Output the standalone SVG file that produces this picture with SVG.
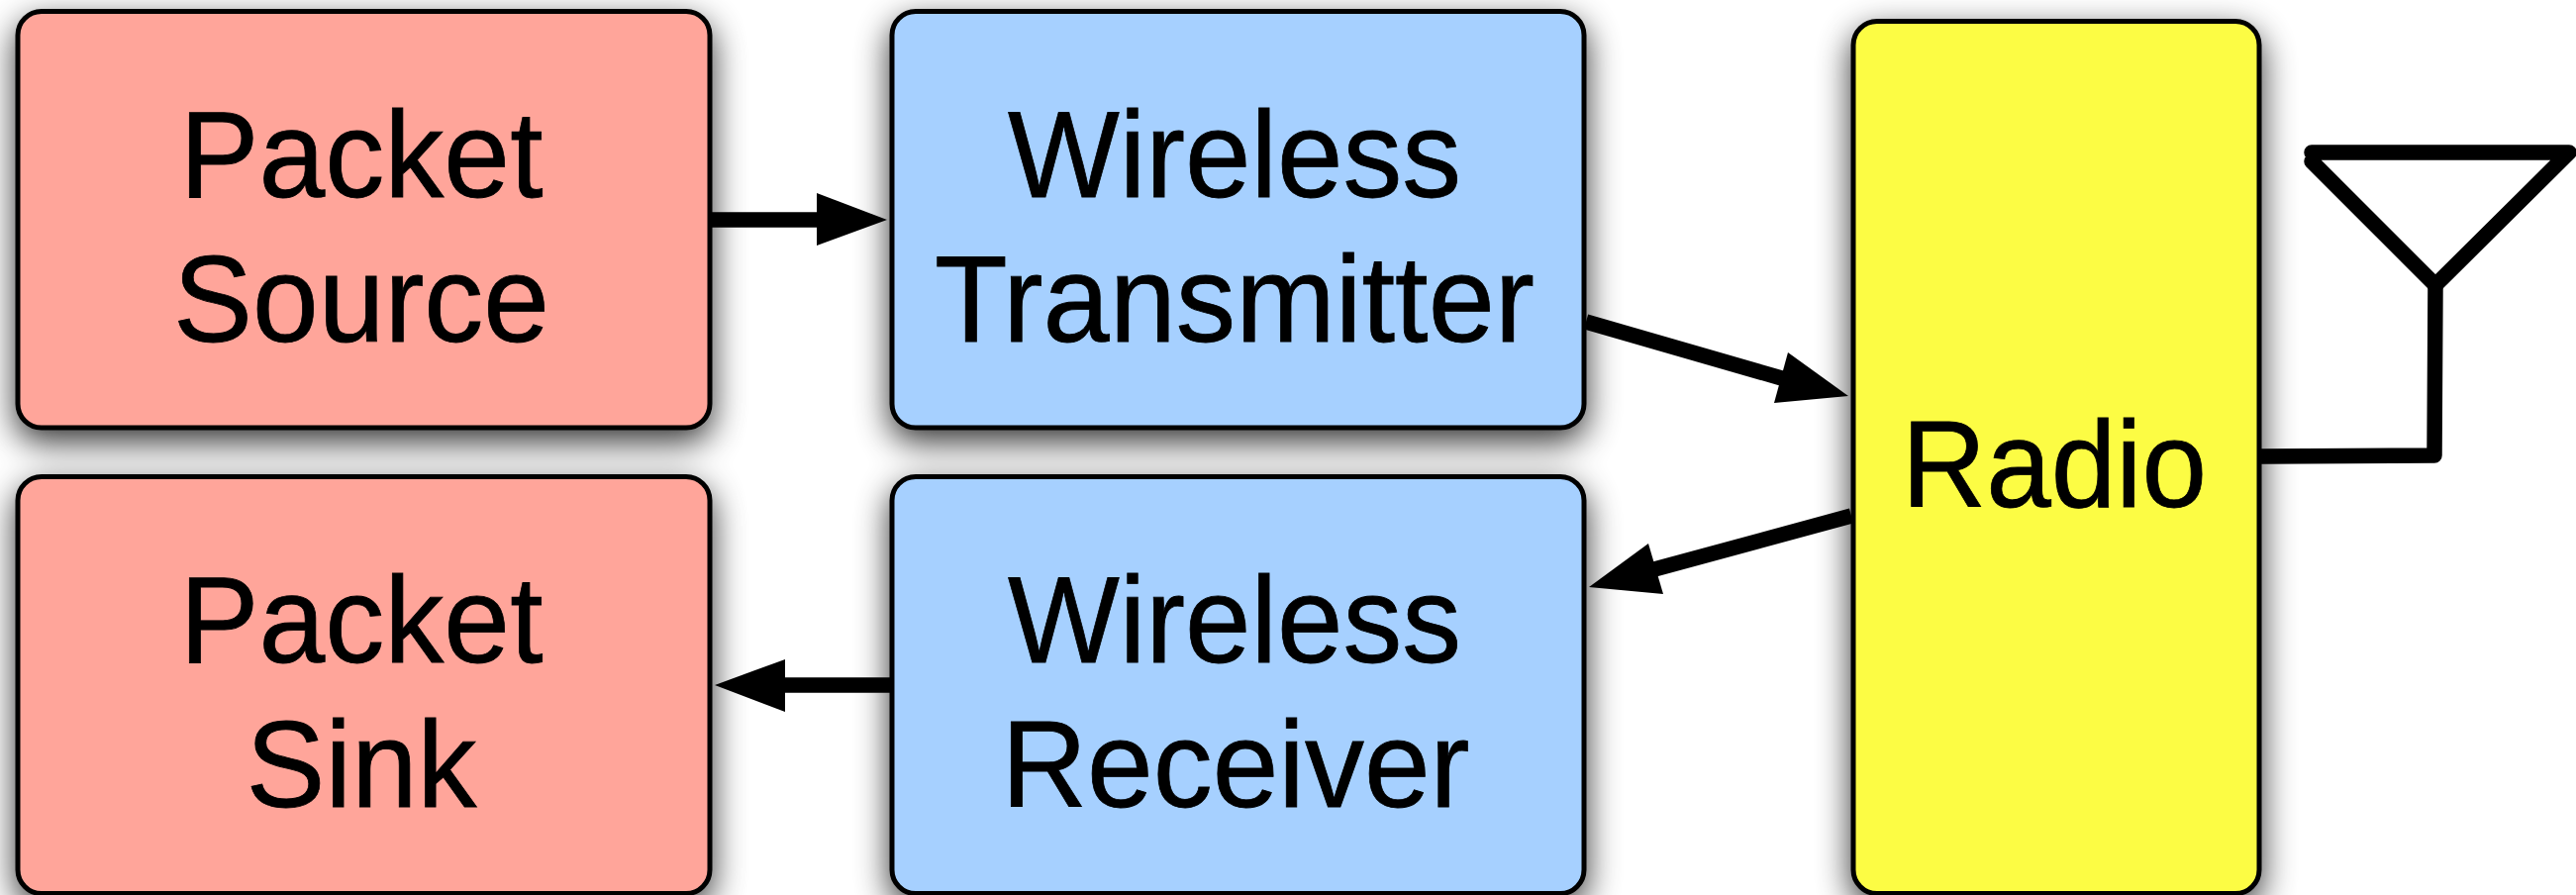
<svg xmlns="http://www.w3.org/2000/svg" width="2602" height="904" viewBox="0 0 2602 904">
  <defs>
    <filter id="shadow" filterUnits="userSpaceOnUse" x="-100" y="-100" width="2802" height="1104" color-interpolation-filters="sRGB">
      <feGaussianBlur stdDeviation="17"/>
    </filter>
  </defs>
  <style>
    .box { stroke: #000; stroke-width: 5; }
    .red { fill: #FFA59A; }
    .blue { fill: #A6D0FF; }
    .yellow { fill: #FCFC44; }
    .sh { fill: #000; stroke: #000; stroke-width: 5; }
    text { font-family: "Liberation Sans", Arial, sans-serif; font-size: 125px; fill: #000; stroke: #000; stroke-width: 0.8; text-anchor: middle; }
    .line { fill: none; stroke: #000; stroke-width: 15.5; stroke-linejoin: round; stroke-linecap: butt; }
    .round { stroke-linecap: round; }
    .head { fill: #000; stroke: none; }
  </style>
  <rect width="2602" height="904" fill="#fff"/>
  <g id="shadows" filter="url(#shadow)" opacity="0.8">
    <rect class="sh" x="18" y="23.5" width="699" height="420.5" rx="24" ry="24"/>
    <rect class="sh" x="901" y="23.5" width="699" height="420.5" rx="24" ry="24"/>
    <rect class="sh" x="18" y="493.5" width="699" height="421" rx="24" ry="24"/>
    <rect class="sh" x="901" y="493.5" width="699" height="421" rx="24" ry="24"/>
    <rect class="sh" x="1872" y="33.5" width="410" height="881" rx="24" ry="24"/>
  </g>
  <g id="packet-source">
    <rect class="box red" x="18" y="11.5" width="699" height="420.5" rx="24" ry="24"/>
    <text x="365" y="199" textLength="367" lengthAdjust="spacingAndGlyphs">Packet</text>
    <text x="365" y="345" textLength="380" lengthAdjust="spacingAndGlyphs">Source</text>
  </g>
  <g id="wireless-transmitter">
    <rect class="box blue" x="901" y="11.5" width="699" height="420.5" rx="24" ry="24"/>
    <text x="1247" y="199" textLength="458" lengthAdjust="spacingAndGlyphs">Wireless</text>
    <text x="1247" y="345" textLength="606" lengthAdjust="spacingAndGlyphs">Transmitter</text>
  </g>
  <g id="packet-sink">
    <rect class="box red" x="18" y="481.5" width="699" height="421" rx="24" ry="24"/>
    <text x="365" y="669" textLength="367" lengthAdjust="spacingAndGlyphs">Packet</text>
    <text x="365" y="815" textLength="233" lengthAdjust="spacingAndGlyphs">Sink</text>
  </g>
  <g id="wireless-receiver">
    <rect class="box blue" x="901" y="481.5" width="699" height="421" rx="24" ry="24"/>
    <text x="1247" y="669" textLength="458" lengthAdjust="spacingAndGlyphs">Wireless</text>
    <text x="1248" y="815" textLength="473" lengthAdjust="spacingAndGlyphs">Receiver</text>
  </g>
  <g id="radio">
    <rect class="box yellow" x="1872" y="21.5" width="410" height="881" rx="24" ry="24"/>
    <text x="2075" y="512" textLength="308" lengthAdjust="spacingAndGlyphs">Radio</text>
  </g>
  <g id="connectors">
    <line class="line" x1="719" y1="222" x2="830" y2="222"/>
    <polygon class="head" points="896,222 825,195 825,248"/>
    <line class="line" x1="1602" y1="325" x2="1810" y2="385"/>
    <polygon class="head" points="1867,400 1806,356 1792,407"/>
    <line class="line" x1="1870" y1="521" x2="1660" y2="578"/>
    <polygon class="head" points="1605,593 1665,549 1680,600"/>
    <line class="line" x1="900" y1="692" x2="790" y2="692"/>
    <polygon class="head" points="722,692 793,666 793,719"/>
    <path class="line" d="M2284 461 L2459 460 L2460 288"/>
  </g>
  <g id="antenna">
    <path class="line round" d="M2335 154 H2595 L2460 288 L2335 163"/>
  </g>
</svg>
